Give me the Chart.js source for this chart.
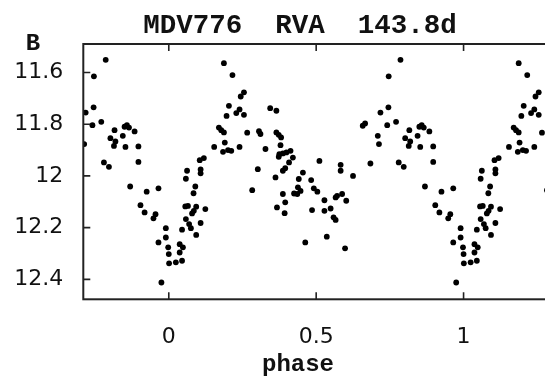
<!DOCTYPE html>
<html>
<head>
<meta charset="utf-8">
<script src="https://cdn.jsdelivr.net/npm/chart.js@4.4.1/dist/chart.umd.min.js"></script>
<style>
  html, body { margin: 0; padding: 0; background: #fff; overflow: hidden; }
  #wrap { width: 556px; height: 378px; }
</style>
</head>
<body>
<div id="wrap"><canvas id="lc"></canvas></div>
<script>
// phase-folded light curve, one cycle; plotted again at phase-1 and phase+1
const phase = [
  0.187, 0.216, 0.244, 0.255, 0.204, 0.196, 0.229, 0.240, 0.255, 0.170,
  0.178, 0.187, 0.266, 0.306, 0.311, 0.190, 0.154, 0.184, 0.201, 0.212,
  0.240, 0.328, 0.105, 0.119, 0.062, 0.058, 0.108, 0.108, 0.302, 0.283,
  0.090, 0.084, 0.056, 0.065, 0.093, 0.085, 0.124, 0.058, 0.079, 0.069,
  0.075, 0.108, 0.093, 0.045, -0.010, -0.010, -0.002, 0.037, 0.048, 0.000,
  0.037, 0.001, 0.024, 0.045, -0.035, -0.035, -0.025,
  0.344, 0.365, 0.365, 0.373, 0.381, 0.379, 0.375, 0.373, 0.387, 0.399,
  0.413, 0.421, 0.408, 0.395, 0.387, 0.362, 0.455, 0.441, 0.438, 0.425,
  0.436, 0.447, 0.387, 0.395, 0.367, 0.393, 0.483, 0.492, 0.504, 0.511,
  0.486, 0.528, 0.528, 0.549, 0.559, 0.566, 0.566, 0.571, 0.588, 0.602,
  0.583, 0.583, 0.625, 0.536, 0.463, 0.598, 0.658, 0.666,
  0.786, 0.746, 0.745, 0.718, 0.741, 0.771, 0.709, 0.713, 0.684, 0.780,
  0.797, 0.816, 0.802, 0.819, 0.814, 0.844, 0.850, 0.858, 0.865, 0.853,
  0.884, 0.897, 0.897, 0.869, 0.925, 0.904, 0.918, 0.948, 0.955
];
const bMag = [
  11.564, 11.610, 11.693, 11.677, 11.729, 11.768, 11.757, 11.743, 11.764, 11.813,
  11.823, 11.832, 11.833, 11.827, 11.838, 11.871, 11.888, 11.907, 11.900, 11.903,
  11.888, 11.896, 11.939, 11.931, 11.980, 12.011, 11.975, 11.990, 11.974, 12.055,
  12.041, 12.067, 12.118, 12.116, 12.119, 12.135, 12.128, 12.167, 12.145, 12.186,
  12.202, 12.182, 12.228, 12.208, 12.202, 12.238, 12.276, 12.264, 12.276, 12.302,
  12.296, 12.338, 12.334, 12.328, 12.048, 12.257, 12.412,
  11.738, 11.748, 11.832, 11.841, 11.851, 11.881, 11.916, 11.926, 11.913, 11.909,
  11.903, 11.929, 11.948, 11.970, 11.980, 12.006, 11.987, 12.012, 12.044, 12.068,
  12.070, 12.058, 12.070, 12.102, 12.122, 12.144, 12.016, 12.048, 12.061, 11.942,
  12.132, 12.094, 12.135, 12.126, 12.160, 12.170, 12.083, 12.077, 12.070, 12.096,
  11.957, 11.980, 12.000, 12.235, 12.257, 12.280, 11.806, 11.797,
  11.551, 11.615, 11.735, 11.755, 11.804, 11.791, 11.845, 11.877, 11.952, 11.948,
  11.965, 11.823, 11.854, 11.867, 11.884, 11.845, 11.810, 11.804, 11.813, 11.888,
  11.828, 11.886, 11.946, 12.041, 12.061, 12.113, 12.141, 12.164, 12.148
];
const phaseRange = [-0.29, 1.3];
const magRange = [11.49, 12.477];
const cycleShifts = [-1, 0, 1];
const titleText = "MDV776  RVA  143.8d";
const bandLabel = "B";
const xLabel = "phase";

const points = [];
cycleShifts.forEach(s => {
  phase.forEach((p, i) => {
    const x = p + s;
    if (x >= phaseRange[0] && x <= phaseRange[1]) points.push({ x: x, y: bMag[i] });
  });
});

// plain number labels: 12 not 12.0, 1 not 1.0
const plainLabel = v => String(Math.round(v * 100) / 100);

// frame, inward ticks on all four sides, and the free text labels
const framePlugin = {
  id: "frame",
  afterDraw(chart) {
    const { ctx, chartArea: a, scales } = chart;
    const tl = 7;
    ctx.save();
    ctx.strokeStyle = "#222";
    ctx.lineWidth = 2;
    ctx.strokeRect(a.left, a.top, a.right - a.left, a.bottom - a.top);
    ctx.lineWidth = 1.6;
    ctx.beginPath();
    scales.x.ticks.forEach(t => {
      const px = scales.x.getPixelForValue(t.value);
      ctx.moveTo(px, a.bottom); ctx.lineTo(px, a.bottom - tl);
      ctx.moveTo(px, a.top); ctx.lineTo(px, a.top + tl);
    });
    scales.y.ticks.forEach(t => {
      const py = scales.y.getPixelForValue(t.value);
      ctx.moveTo(a.left, py); ctx.lineTo(a.left + tl, py);
      ctx.moveTo(a.right, py); ctx.lineTo(a.right - tl, py);
    });
    ctx.stroke();

    ctx.fillStyle = "#111";
    ctx.textAlign = "center";
    ctx.textBaseline = "alphabetic";
    ctx.font = "bold 27.5px 'Liberation Mono', monospace";
    ctx.fillText(titleText, 300, 33);
    ctx.font = "bold 24px 'Liberation Mono', monospace";
    ctx.fillText(bandLabel, 33, 50);
    ctx.fillText(xLabel, 298, 371);
    ctx.restore();
  }
};

new Chart(document.getElementById("lc").getContext("2d"), {
  type: "scatter",
  data: {
    datasets: [{
      data: points,
      backgroundColor: "#000",
      borderColor: "#000",
      pointRadius: 2.9,
      pointBorderWidth: 0
    }]
  },
  options: {
    responsive: true,
    maintainAspectRatio: false,
    animation: false,
    layout: { padding: { top: 44, right: 1, left: 0, bottom: 0 } },
    plugins: { legend: { display: false }, tooltip: { enabled: false } },
    scales: {
      x: {
        type: "linear",
        min: phaseRange[0],
        max: phaseRange[1],
        grid: { display: false },
        border: { display: false },
        ticks: { stepSize: 0.5, includeBounds: false, padding: 17, color: "#111", font: { family: "DejaVu Sans", size: 22 }, maxRotation: 0, callback: plainLabel },
        afterFit(scale) { scale.height = 78.7; }
      },
      y: {
        reverse: true,
        min: magRange[0],
        max: magRange[1],
        grid: { display: false },
        border: { display: false },
        ticks: { stepSize: 0.2, includeBounds: false, padding: 12, color: "#111", font: { family: "DejaVu Sans", size: 22 }, callback: plainLabel },
        afterFit(scale) { scale.width = 83.3; }
      }
    }
  },
  plugins: [framePlugin]
});
</script>
</body>
</html>
